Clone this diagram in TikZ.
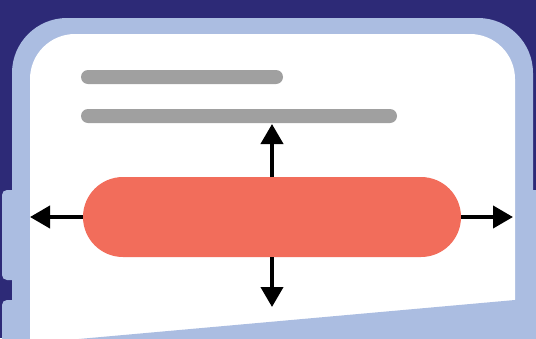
\documentclass[tikz,border=0pt]{standalone}
\usetikzlibrary{arrows.meta}
\definecolor{navy}{HTML}{2D2A77}
\definecolor{frameblue}{HTML}{ABBDE1}
\definecolor{bargray}{HTML}{A0A0A0}
\definecolor{pillred}{HTML}{F26D5B}
\tikzset{
  textbar/.style={fill=bargray, rounded corners=7pt, minimum height=14pt, inner sep=0pt, outer sep=0pt},
  pillbox/.style={fill=pillred, rounded corners=40pt, minimum width=378pt, minimum height=80pt, inner sep=0pt, outer sep=0pt},
  arr/.style={line width=4pt, -{Triangle[length=20pt,width=22pt]}},
  sidebtn/.style={fill=frameblue, rounded corners=5pt}
}
\begin{document}
\begin{tikzpicture}[x=1pt,y=-1pt]
\useasboundingbox (0,0) rectangle (536,338);
\clip (0,0) rectangle (536,338);
\fill[navy] (0,0) rectangle (536,338);
% side buttons
\fill[sidebtn] (2,190) rectangle (20,280);
\fill[sidebtn] (2,300) rectangle (20,360);
\fill[sidebtn] (520,190) rectangle (545,360);
% phone frame
\fill[frameblue, rounded corners=55pt] (12,18) rectangle (533,420);
% screen
\fill[white, rounded corners=45pt] (30,34) rectangle (515,420);
\fill[frameblue] (525,299.1) -- (25,343.8) -- (25,420) -- (525,420) -- cycle;
% text lines
\node[textbar, minimum width=202pt] (line1) at (182,77) {};
\node[textbar, minimum width=316pt] (line2) at (239,116) {};
% pill and arrows
\coordinate (tipN) at (272,124);
\coordinate (tipS) at (272,307);
\coordinate (tipW) at (30,217);
\coordinate (tipE) at (513,217);
\node[pillbox] (pill) at (272,217) {};
\draw[arr] (pill.north) -- (tipN);
\draw[arr] (pill.south) -- (tipS);
\draw[arr] (pill.west) -- (tipW);
\draw[arr] (pill.east) -- (tipE);
\end{tikzpicture}
\end{document}
